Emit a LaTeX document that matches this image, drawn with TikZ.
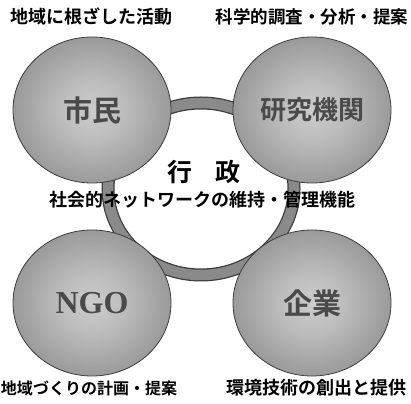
\documentclass[tikz,border=0pt]{standalone}
\usepackage{fontspec}
\usetikzlibrary{shapes.geometric}
\newfontfamily\jp{Noto Sans CJK JP}[BoldFont={Noto Sans CJK JP Bold}]
\newfontfamily\ser{Liberation Serif}
\definecolor{ringc}{HTML}{8A8A8A}
\definecolor{edgec}{HTML}{3C3C3C}
\definecolor{labc}{HTML}{4A4A4A}
\pgfdeclareradialshading{ballgray}{\pgfpoint{0bp}{0bp}}{%
  color(0bp)=(black!20); color(10bp)=(black!26); color(30bp)=(black!44);
  color(50bp)=(black!56); color(60bp)=(black!56)}
\tikzset{
  sphere/.style={ellipse, draw=edgec, line width=0.8pt, shading=ballgray,
    minimum width=158pt, minimum height=146pt, inner sep=0pt,
    text=labc, font=\jp\bfseries\fontsize{29}{30}\selectfont},
  caption/.style={font=\jp\bfseries\fontsize{18}{20}\selectfont, text=black, inner sep=0pt},
}
\begin{document}
\begin{tikzpicture}[x=1pt,y=1pt]
\useasboundingbox[fill=white] (0,0) rectangle (411,403);
\coordinate (rc) at (201,214);
% ring
\draw[line width=13pt, edgec] (rc) ellipse (93 and 86);
\draw[line width=10.5pt, ringc] (rc) ellipse (93 and 86);
% spheres
\node[sphere] (shimin) at (92,293) {市民};
\node[sphere] (kenkyu) at (312,293) {\fontsize{26}{28}\selectfont 研究機関};
\node[sphere] (ngo) at (92,100) {\ser\bfseries\fontsize{32}{34}\selectfont NGO};
\node[sphere] (kigyo) at (312,100) {企業};
% center
\node[font=\jp\bfseries\fontsize{25}{27}\selectfont, inner sep=0pt] (gyosei) at (204,231) {行\hspace{0.9em}政};
\node[caption] (func) at (202,203) {社会的ネットワークの維持・管理機能};
% captions
\node[caption] (c1) at (91,386) {地域に根ざした活動};
\node[caption, font=\jp\bfseries\fontsize{17.5}{19}\selectfont] (c2) at (312,386) {科学的調査・分析・提案};
\node[caption, font=\jp\bfseries\fontsize{16}{18}\selectfont] (c3) at (89,15) {地域づくりの計画・提案};
\node[caption] (c4) at (316,15) {環境技術の創出と提供};
\end{tikzpicture}
\end{document}
